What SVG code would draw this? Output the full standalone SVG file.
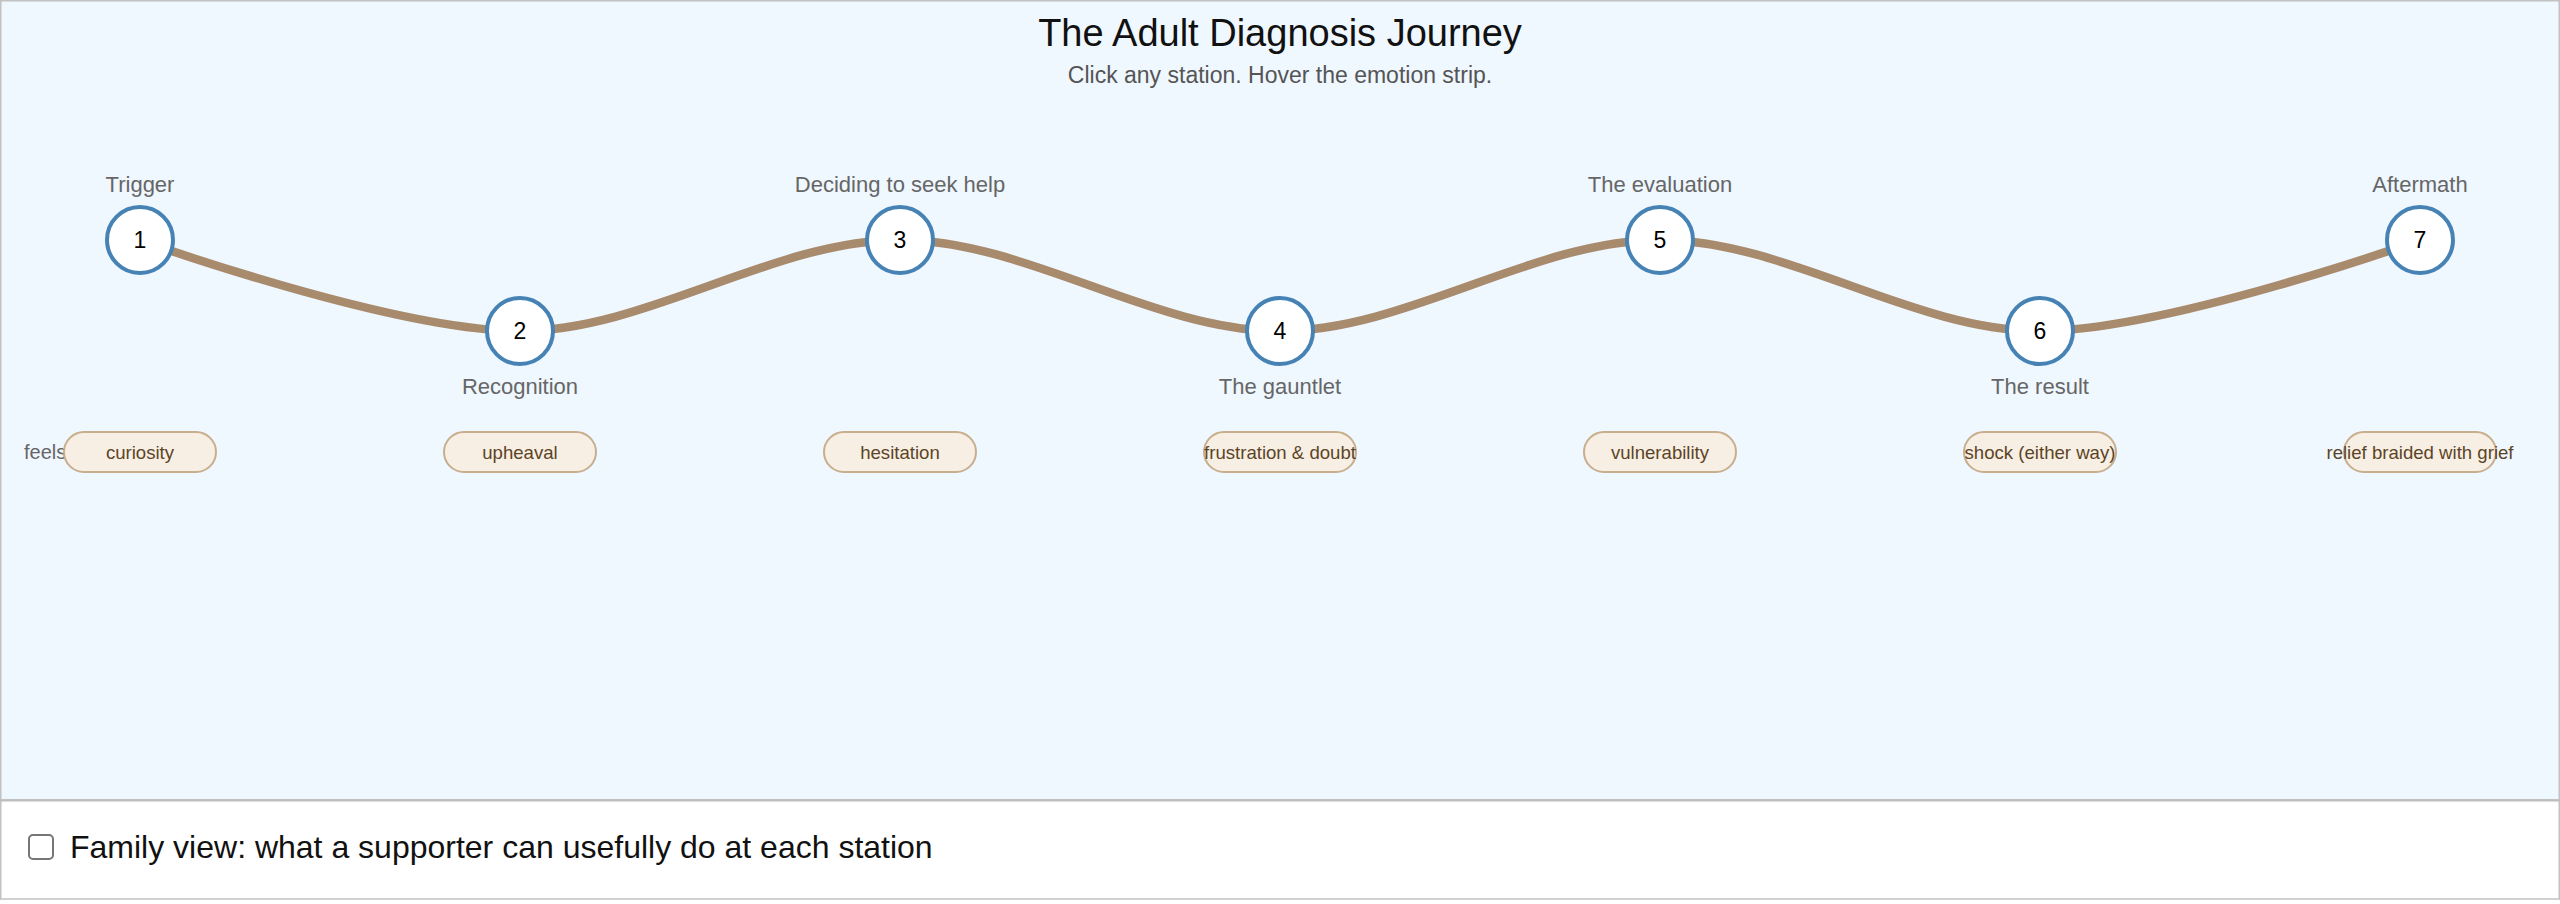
<svg xmlns="http://www.w3.org/2000/svg" width="2560" height="904" viewBox="0 0 2560 904">
  <style>
    text { font-family: "Liberation Sans", Arial, sans-serif; }
    .title { font-size: 38px; fill: #111; text-anchor: middle; }
    .sub { font-size: 23px; fill: #555; text-anchor: middle; }
    .lbl { font-size: 22px; fill: #666; text-anchor: middle; }
    .num { font-size: 23px; fill: #000; text-anchor: middle; }
    .st { fill: #fff; stroke: #4682b4; stroke-width: 4; }
    .pill { fill: #f8efe4; stroke: #c8ae8c; stroke-width: 2; }
    .ptxt { font-size: 18.6px; fill: #5c4426; text-anchor: middle; }
    .feel { font-size: 20px; fill: #666; }
    .path { fill: none; stroke: #a88a6c; stroke-width: 8.5; stroke-linecap: round; }
    .fam { font-size: 32px; fill: #111; }
  </style>
  <rect x="0" y="0" width="2560" height="904" fill="#ffffff"/>
  <rect x="0.75" y="0.75" width="2558.5" height="799.25" fill="#eff7ff" stroke="#c2c2c2" stroke-width="1.5"/>
  <rect x="0.75" y="800" width="2558.5" height="99" fill="#ffffff" stroke="#c2c2c2" stroke-width="1.5"/>
  <line x1="0" y1="800.5" x2="2560" y2="800.5" stroke="#bdbdbd" stroke-width="2"/>

  <text class="title" x="1280" y="46">The Adult Diagnosis Journey</text>
  <text class="sub" x="1280" y="83">Click any station. Hover the emotion strip.</text>

  <g id="connectors">
    <path class="path" d="M140,240 C140,240 393.33,331 520,331 C646.67,331 773.33,240 900,240 C1026.67,240 1153.33,331 1280,331 C1406.67,331 1533.33,240 1660,240 C1786.67,240 1913.33,331 2040,331 C2166.67,331 2420,240 2420,240"/>
  </g>

  <g id="station1">
    <text class="lbl" x="140" y="192">Trigger</text>
    <circle class="st" cx="140" cy="240" r="33"/>
    <text class="num" x="140" y="248">1</text>
  </g>
  <g id="station2">
    <circle class="st" cx="520" cy="331" r="33"/>
    <text class="num" x="520" y="339">2</text>
    <text class="lbl" x="520" y="394">Recognition</text>
  </g>
  <g id="station3">
    <text class="lbl" x="900" y="192">Deciding to seek help</text>
    <circle class="st" cx="900" cy="240" r="33"/>
    <text class="num" x="900" y="248">3</text>
  </g>
  <g id="station4">
    <circle class="st" cx="1280" cy="331" r="33"/>
    <text class="num" x="1280" y="339">4</text>
    <text class="lbl" x="1280" y="394">The gauntlet</text>
  </g>
  <g id="station5">
    <text class="lbl" x="1660" y="192">The evaluation</text>
    <circle class="st" cx="1660" cy="240" r="33"/>
    <text class="num" x="1660" y="248">5</text>
  </g>
  <g id="station6">
    <circle class="st" cx="2040" cy="331" r="33"/>
    <text class="num" x="2040" y="339">6</text>
    <text class="lbl" x="2040" y="394">The result</text>
  </g>
  <g id="station7">
    <text class="lbl" x="2420" y="192">Aftermath</text>
    <circle class="st" cx="2420" cy="240" r="33"/>
    <text class="num" x="2420" y="248">7</text>
  </g>

  <g id="emotion-strip">
    <text class="feel" x="24" y="459">feels</text>
    <g id="emo1"><rect class="pill" x="64" y="432" width="152" height="40" rx="20"/><text class="ptxt" x="140" y="458.5">curiosity</text></g>
    <g id="emo2"><rect class="pill" x="444" y="432" width="152" height="40" rx="20"/><text class="ptxt" x="520" y="458.5">upheaval</text></g>
    <g id="emo3"><rect class="pill" x="824" y="432" width="152" height="40" rx="20"/><text class="ptxt" x="900" y="458.5">hesitation</text></g>
    <g id="emo4"><rect class="pill" x="1204" y="432" width="152" height="40" rx="20"/><text class="ptxt" x="1280" y="458.5">frustration &amp; doubt</text></g>
    <g id="emo5"><rect class="pill" x="1584" y="432" width="152" height="40" rx="20"/><text class="ptxt" x="1660" y="458.5">vulnerability</text></g>
    <g id="emo6"><rect class="pill" x="1964" y="432" width="152" height="40" rx="20"/><text class="ptxt" x="2040" y="458.5">shock (either way)</text></g>
    <g id="emo7"><rect class="pill" x="2344" y="432" width="152" height="40" rx="20"/><text class="ptxt" x="2420" y="458.5">relief braided with grief</text></g>
  </g>

  <g id="family-toggle">
    <rect x="29" y="835" width="24" height="24" rx="4" fill="#fff" stroke="#767676" stroke-width="2"/>
    <text class="fam" x="70" y="858">Family view: what a supporter can usefully do at each station</text>
  </g>
</svg>
